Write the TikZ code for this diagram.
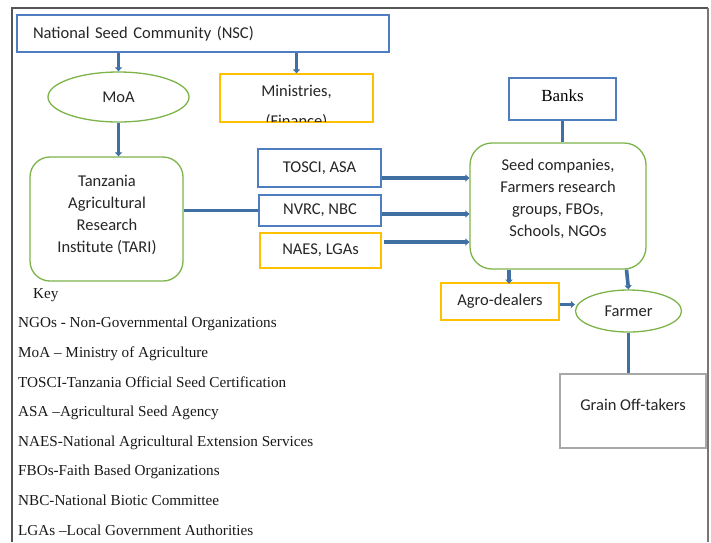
\documentclass[tikz,border=0pt]{standalone}
\usepackage{fontspec}
\setmainfont{Carlito}
\newfontfamily\keyfont[Ligatures=TeX]{Liberation Serif}
\usetikzlibrary{arrows.meta,shapes.geometric,calc}
\definecolor{boxblue}{HTML}{4F7EC0}
\definecolor{boxgreen}{HTML}{7DB44A}
\definecolor{boxgold}{HTML}{FFC000}
\definecolor{linkblue}{HTML}{3F6FA3}
\definecolor{framegray}{HTML}{555555}
\definecolor{boxgray}{HTML}{A8A8A8}
\tikzset{
  boxfont/.style={font=\fontsize{16.5}{22}\selectfont, text=black!85},
  basebox/.style={draw, line width=1.3pt, fill=white, inner sep=0pt, align=center, boxfont},
  bluebox/.style={basebox, draw=boxblue},
  goldbox/.style={basebox, draw=boxgold},
  graybox/.style={basebox, draw=boxgray, line width=1.6pt},
  greenround/.style={basebox, draw=boxgreen, rounded corners=20pt},
  greenoval/.style={basebox, draw=boxgreen, ellipse},
  boxlabel/.style={boxfont, inner sep=0pt, align=center},
  link/.style={draw=linkblue, line width=3.6pt},
  arrowlink/.style={link, -{Triangle[length=4pt,width=7pt]}},
  keytext/.style={anchor=base west, inner sep=0pt, font=\keyfont\fontsize{15.2}{17}\selectfont, text=black!90}
}
\begin{document}
\begin{tikzpicture}[x=1pt,y=-1pt]
\useasboundingbox (0,0) rectangle (711,542);
% frame
\draw[framegray, line width=1.4pt] (12,542) -- (12,8) -- (708,8);
\draw[framegray!80, line width=2.6pt] (708,8) -- (708,542);

% top row
\node[bluebox, minimum width=372pt, minimum height=37pt, text width=340pt, align=left]
  (nsc) at (203,33.5) {National Seed Community (NSC)};
\node[greenoval, minimum width=141pt, minimum height=50pt] (moa) at (118.5,97) {MoA};
\node[goldbox, minimum width=153pt, minimum height=48pt] (min) at (296.5,98) {};
\begin{scope}
  \clip ([shift={(0.7pt,-0.7pt)}]min.north west) rectangle ([shift={(-0.7pt,0.7pt)}]min.south east);
  \node[boxlabel] (minA) at (296.5,92) {Ministries,};
  \node[boxlabel] (minB) at (296.5,121.5) {(Finance)};
\end{scope}

% research institute
\node[greenround, minimum width=153pt, minimum height=124pt] (tari) at (106.5,219) {};
\node[boxlabel] (tariT) at (107,215) {Tanzania\\Agricultural\\Research\\Institute (TARI)};

% regulatory boxes
\node[bluebox, minimum width=123pt, minimum height=38pt] (tosci) at (319.5,168) {TOSCI, ASA};
\node[bluebox, minimum width=122pt, minimum height=31pt] (nvrc) at (320,210.5) {NVRC, NBC};
\node[goldbox, minimum width=121pt, minimum height=35pt] (naes) at (320.5,250.5) {NAES, LGAs};

% banks and seed companies
\node[bluebox, minimum width=107pt, minimum height=42pt] (banks) at (562.5,99) {};
\node[inner sep=0pt, font=\keyfont\fontsize{17}{18}\selectfont] (banksT) at (562.5,96) {Banks};
\node[greenround, minimum width=176pt, minimum height=126pt, rounded corners=22pt] (seed) at (558,206) {};
\node[boxlabel] (seedT) at (558,199) {Seed companies,\\Farmers research\\groups, FBOs,\\Schools, NGOs};

% distribution
\node[goldbox, minimum width=118pt, minimum height=37pt] (agro) at (500,301.5) {Agro-dealers};
\node[greenoval, minimum width=106pt, minimum height=42pt] (farmer) at (628.5,311) {Farmer};
\node[graybox, minimum width=146pt, minimum height=74pt] (grain) at (633,411) {};
\node[boxlabel] (grainT) at (633,405) {Grain Off-takers};

% connectors
\draw[arrowlink] (nsc.south -| moa.north) -- (moa.north);
\draw[arrowlink] (nsc.south -| min.north) -- (min.north);
\draw[arrowlink] (moa.south) -- (moa.south |- tari.north);
\draw[link] (tari.east |- nvrc.west) -- (nvrc.west);
\draw[arrowlink] ([yshift=-10pt]tosci.east) -- ([yshift=-10pt]tosci.east -| seed.west);
\draw[arrowlink] ([yshift=-3.5pt]nvrc.east) -- ([yshift=-3.5pt]nvrc.east -| seed.west);
\draw[arrowlink] ([xshift=2pt,yshift=8.5pt]naes.east) -- ([yshift=8.5pt]naes.east -| seed.west);
\draw[link] (banks.south) -- (banks.south |- seed.north);
\draw[arrowlink] (seed.south -| agro.north) ++(9pt,0) -- ++(0,14);
\draw[arrowlink] (seed.south -| farmer.north) ++(-2pt,0) -- (farmer.north);
\draw[arrowlink] ([yshift=-3pt]agro.east) -- ([yshift=-3pt]agro.east -| farmer.west);
\draw[link] (farmer.south) -- (farmer.south |- grain.north);

% key (placed on baselines)
\node[keytext] (key) at (33,298) {Key};
\node[keytext] (k1) at (18,327) {NGOs - Non-Governmental Organizations};
\node[keytext] (k2) at (18,357) {MoA – Ministry of Agriculture};
\node[keytext] (k3) at (18,387) {TOSCI-Tanzania Official Seed Certification};
\node[keytext] (k4) at (18,416) {ASA –Agricultural Seed Agency};
\node[keytext] (k5) at (18,446) {NAES-National Agricultural Extension Services};
\node[keytext] (k6) at (18,475) {FBOs-Faith Based Organizations};
\node[keytext] (k7) at (18,505) {NBC-National Biotic Committee};
\node[keytext] (k8) at (18,535) {LGAs –Local Government Authorities};
\end{tikzpicture}
\end{document}
